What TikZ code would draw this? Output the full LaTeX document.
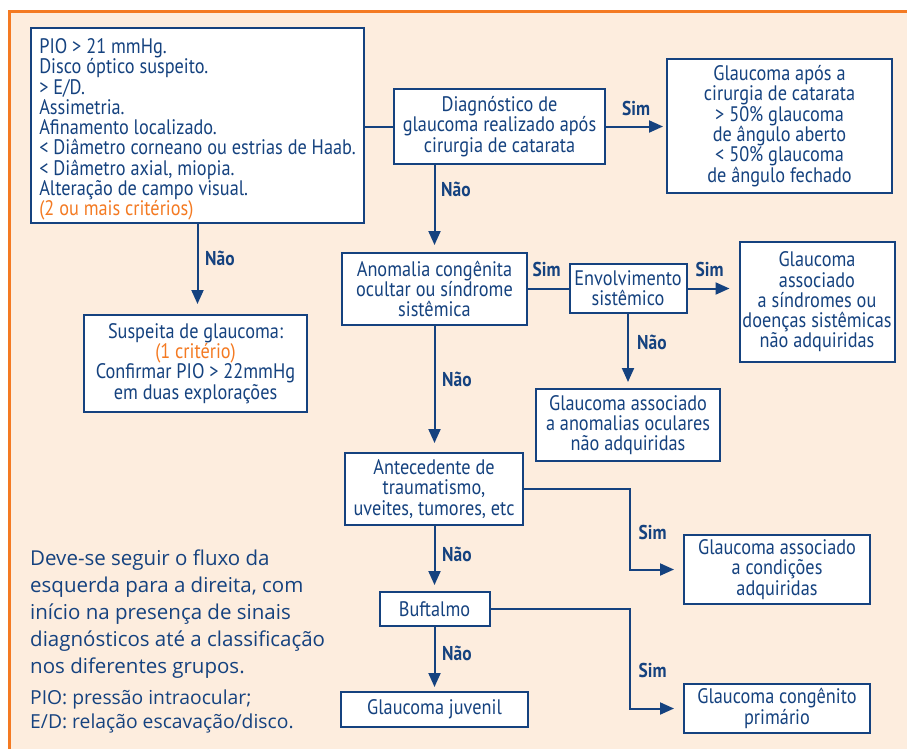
\documentclass[tikz,border=0pt]{standalone}
\usepackage{fontspec}
\setmainfont{PT Sans}
\newfontfamily\condfont{PT Sans}[FakeStretch=0.87]
\newfontfamily\notefont{Open Sans}
\usetikzlibrary{arrows.meta}
\definecolor{navy}{HTML}{15427F}
\definecolor{peach}{HTML}{FDEDDE}
\definecolor{orng}{HTML}{F47A22}
\tikzset{
 box/.style={draw=navy, line width=2pt, fill=white, text=navy, align=center, inner sep=0pt, font=\condfont\fontsize{21}{20.3}\selectfont},
 lab/.style={text=navy, anchor=base west, inner sep=0pt, font=\condfont\bfseries\fontsize{20}{20}\selectfont},
 conn/.style={draw=navy, line width=2pt},
 arr/.style={conn, -{Triangle[length=14pt,width=12pt]}, shorten >=7pt},
 note/.style={text=navy, align=left, anchor=north west, inner sep=0pt}
}
\begin{document}
\begin{tikzpicture}[x=1pt,y=-1pt]
\useasboundingbox (0,0) rectangle (907,748);
\clip (0,0) rectangle (907,748);
\fill[white] (0,0) rectangle (907,748);
\draw[orng, line width=3pt, fill=peach] (9.5,11.5) rectangle (930,770);

\node[box, minimum width=333pt, minimum height=195pt, align=left] (crit) at (197.5,125.5)
 {\rule{0pt}{23pt}PIO > 21 mmHg.\\Disco óptico suspeito.\\> E/D.\\Assimetria.\\Afinamento localizado.\\< Diâmetro corneano ou estrias de Haab.\\< Diâmetro axial, miopia.\\Alteração de campo visual.\\\textcolor{orng}{(2 ou mais critérios)}};
\node[box, minimum width=211pt, minimum height=75pt] (diag) at (499.5,126.5)
 {Diagnóstico de\\glaucoma realizado após\\cirurgia de catarata};
\node[box, minimum width=225pt, minimum height=134pt] (catar) at (779.5,126)
 {Glaucoma após a\\cirurgia de catarata\\> 50\% glaucoma\\de ângulo aberto\\< 50\% glaucoma\\de ângulo fechado};
\node[box, minimum width=223pt, minimum height=97pt] (susp) at (195.5,363.5)
 {Suspeita de glaucoma:\\\textcolor{orng}{(1 critério)}\\Confirmar PIO > 22mmHg\\em duas explorações};
\node[box, minimum width=185pt, minimum height=72pt] (anom) at (434.5,289)
 {Anomalia congênita\\ocultar ou síndrome\\sistêmica};
\node[box, minimum width=117pt, minimum height=49pt] (envol) at (628,288.5)
 {Envolvimento\\sistêmico};
\node[box, minimum width=155pt, minimum height=120pt] (sindr) at (817,302)
 {Glaucoma\\associado\\a síndromes ou\\doenças sistêmicas\\não adquiridas};
\node[box, minimum width=184pt, minimum height=72pt] (ocul) at (628,425)
 {Glaucoma associado\\a anomalias oculares\\não adquiridas};
\node[box, minimum width=178pt, minimum height=72pt] (antec) at (434,489)
 {Antecedente de\\traumatismo,\\uveites, tumores, etc};
\node[box, minimum width=186pt, minimum height=69pt] (adq) at (777,569.5)
 {Glaucoma associado\\a condições\\adquiridas};
\node[box, minimum width=110pt, minimum height=34pt] (buft) at (434.5,609) {Buftalmo};
\node[box, minimum width=187pt, minimum height=35pt] (juv) at (434.5,709.5) {Glaucoma juvenil};
\node[box, minimum width=186pt, minimum height=49pt, font=\condfont\fontsize{21}{18}\selectfont] (cong) at (777,708.5)
 {Glaucoma congênito\\primário};

\coordinate (colx) at (630,0);
\draw[conn] (crit.east |- diag.west) -- (diag.west);
\draw[arr, shorten >=3pt] (diag.east) -- (diag.east -| catar.west);
\draw[arr] (diag.south -| anom.north) -- (anom.north);
\draw[arr, shorten >=10pt] (crit.south) -- (crit.south |- susp.north);
\draw[conn] (anom.east) -- (anom.east -| envol.west);
\draw[arr, shorten >=9pt] (envol.east) -- (envol.east -| sindr.west);
\draw[arr, shorten >=6pt] (envol.south) -- (ocul.north);
\draw[arr, shorten >=9pt] (anom.south) -- (anom.south |- antec.north);
\draw[arr, shorten >=9pt] (antec.east) -- (antec.east -| colx) |- (adq.west);
\draw[arr, shorten >=6pt] (antec.south -| buft.north) -- (buft.north);
\draw[arr, shorten >=9pt] (buft.east) -- (buft.east -| colx) |- (cong.west);
\draw[arr, shorten >=4pt] (buft.south) -- (juv.north);

\node[lab] (l1) at (622,115) {Sim};
\node[lab] (l2) at (441,196.7) {Não};
\node[lab] (l3) at (205,265) {Não};
\node[lab] (l4) at (532.4,276.7) {Sim};
\node[lab] (l5) at (695.5,276.7) {Sim};
\node[lab] (l6) at (637,349) {Não};
\node[lab] (l7) at (442,386.7) {Não};
\node[lab] (l8) at (638.4,539) {Sim};
\node[lab] (l9) at (442,561) {Não};
\node[lab] (l10) at (638.4,677.7) {Sim};
\node[lab] (l11) at (442,660.7) {Não};

\node[note, font=\notefont\fontsize{20.5}{26.8}\selectfont] (note1) at (30,550)
 {Deve-se seguir o fluxo da\\esquerda para a direita, com\\início na presença de sinais\\diagnósticos até a classificação\\nos diferentes grupos.};
\node[note, font=\notefont\fontsize{19.3}{24}\selectfont] (note2) at (30,690)
 {PIO: pressão intraocular;\\E/D: relação escavação/disco.};
\end{tikzpicture}
\end{document}
